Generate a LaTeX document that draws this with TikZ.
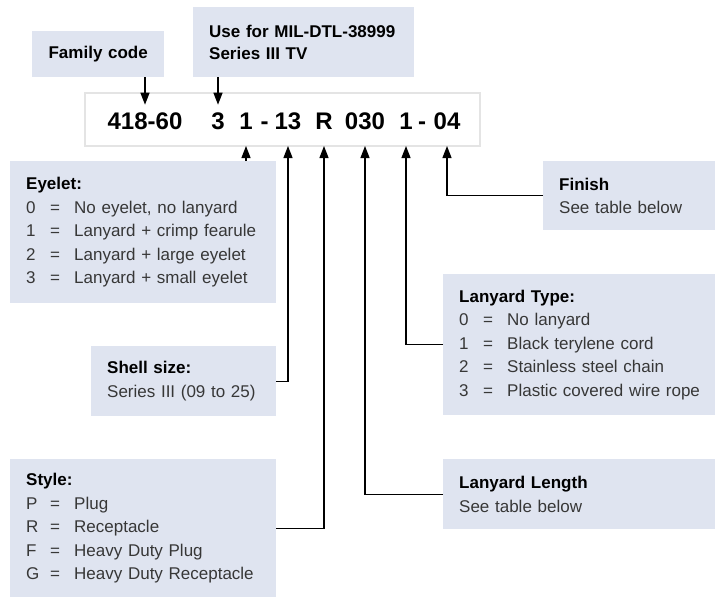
\documentclass[tikz,border=0pt]{standalone}
\usepackage{fontspec}
\setmainfont{Liberation Sans}
\usepackage{tikz}
\usetikzlibrary{arrows.meta,positioning,calc}

\definecolor{boxblue}{RGB}{223,228,240}
\definecolor{rimgray}{RGB}{228,228,228}
\definecolor{txtgray}{RGB}{55,55,55}

% one line of a code list: key = meaning
\newcommand{\optline}[2]{\makebox[23pt][l]{#1}\makebox[12pt][c]{=}\hspace{13pt}#2}
\newcommand{\boxhead}[1]{{\color{black}\bfseries #1}}

\begin{document}
\begin{tikzpicture}[
    x=1pt, y=-1pt,
    infobox/.style={fill=boxblue, inner xsep=16pt, inner ysep=0pt, anchor=north west,
      align=left, text=txtgray, font=\fontsize{17}{23.5}\selectfont},
    codepart/.style={inner xsep=0pt, inner ysep=7pt, text height=17.2pt, text depth=0pt,
      font=\fontsize{24}{28}\selectfont\bfseries},
    arr/.style={-{Triangle[length=12pt,width=9pt]}, line width=1.3pt, black}
  ]
    \useasboundingbox (0,0) rectangle (715,598);

    % Part number frame
    \node[draw=rimgray, line width=2pt, outer sep=0pt, minimum width=395pt, minimum height=53pt]
      (codebox) at (282.5,119.5) {};
    \node[codepart] (c418)  at (145,120.5)   {418-60};
    \node[codepart] (c3)    at (218,120.5)   {3};
    \node[codepart] (c1)    at (246,120.5)   {1};
    \node[codepart] (dsh1)  at (264.5,120.5) {-};
    \node[codepart] (c13)   at (288,120.5)   {13};
    \node[codepart] (cR)    at (324,120.5)   {R};
    \node[codepart] (c030)  at (365,120.5)   {030};
    \node[codepart] (c1b)   at (406,120.5)   {1};
    \node[codepart] (dsh2)  at (422,120.5)   {-};
    \node[codepart] (c04)   at (447,120.5)   {04};

    % Labels above
    \node[infobox, align=center, text width=100pt, minimum height=46pt, text=black,
      font=\fontsize{17}{22}\selectfont\bfseries] (fam) at (32,31) {Family code};
    \node[infobox, text width=189pt, minimum height=70pt, text=black,
      font=\fontsize{17}{22}\selectfont\bfseries] (usefor) at (193,7)
      {Use for MIL-DTL-38999\\Series III TV};

    % Labels below, left
    \node[infobox, text width=234pt, minimum height=142pt] (eyelet) at (10,161)
      {\boxhead{Eyelet:}\\
       \optline{0}{No eyelet, no lanyard}\\
       \optline{1}{Lanyard + crimp fearule}\\
       \optline{2}{Lanyard + large eyelet}\\
       \optline{3}{Lanyard + small eyelet}};
    \node[infobox, text width=153pt, minimum height=70pt] (shell) at (91,346)
      {\boxhead{Shell size:}\\Series III (09 to 25)};
    \node[infobox, text width=234pt, minimum height=138pt] (style) at (10,459)
      {\boxhead{Style:}\\
       \optline{P}{Plug}\\
       \optline{R}{Receptacle}\\
       \optline{F}{Heavy Duty Plug}\\
       \optline{G}{Heavy Duty Receptacle}};

    % Labels below, right (run past the right edge)
    \node[infobox, text width=170pt, minimum height=69pt] (finish) at (543,161)
      {\boxhead{Finish}\\See table below};
    \node[infobox, text width=270pt, minimum height=141pt] (ltype) at (443,274)
      {\boxhead{Lanyard Type:}\\
       \optline{0}{No lanyard}\\
       \optline{1}{Black terylene cord}\\
       \optline{2}{Stainless steel chain}\\
       \optline{3}{Plastic covered wire rope}};
    \node[infobox, text width=270pt, minimum height=70pt] (llen) at (443,459)
      {\boxhead{Lanyard Length}\\See table below};

    % Connectors
    \draw[arr] (c418 |- fam.south) -- (c418.north);
    \draw[arr] (c3 |- usefor.south) -- (c3.north);
    \draw[arr] (eyelet.north -| c1) -- (c1 |- codebox.south);
    \draw[arr] (shell.east) -| (c13 |- codebox.south);
    \draw[arr] (style.east) -| (cR |- codebox.south);
    \draw[arr] (llen.west) -| (c030 |- codebox.south);
    \draw[arr] (ltype.west) -| (c1b |- codebox.south);
    \draw[arr] (finish.west) -| (c04 |- codebox.south);
  \end{tikzpicture}
\end{document}
